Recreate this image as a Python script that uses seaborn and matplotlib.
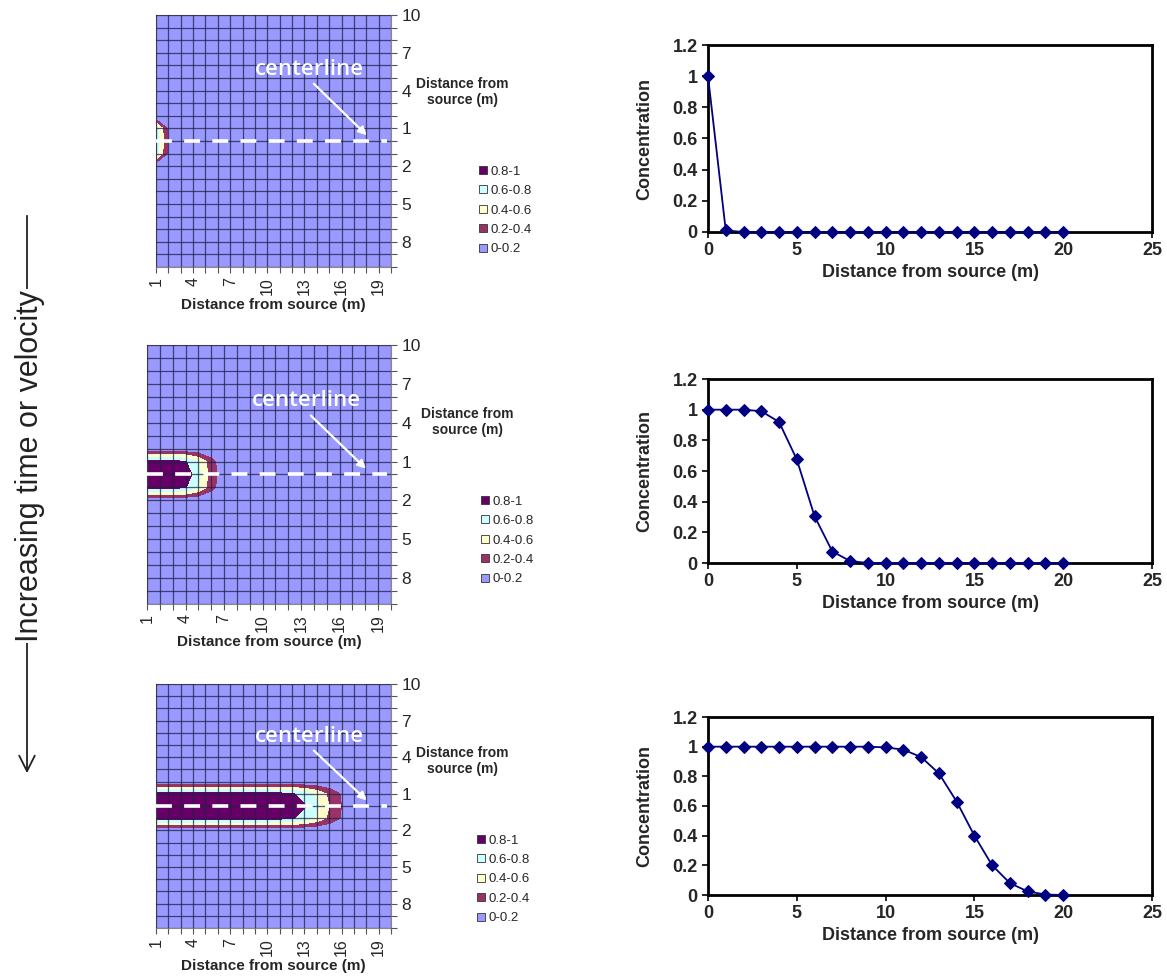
import numpy as np
import pandas as pd
import matplotlib
matplotlib.use('Agg')
import matplotlib.pyplot as plt
from matplotlib.lines import Line2D
from matplotlib.patches import FancyArrowPatch
import seaborn as sns

# ---- data ----
# centerline concentration profiles (right column), distance 0..20 m
distance = [0, 1, 2, 3, 4, 5, 6, 7, 8, 9, 10, 11, 12, 13, 14, 15, 16, 17, 18, 19, 20]
conc_early = [1, 0.01, 0, 0, 0, 0, 0, 0, 0, 0, 0, 0, 0, 0, 0, 0, 0, 0, 0, 0, 0]
conc_mid = [1, 1, 1, 0.99, 0.92, 0.675, 0.305, 0.075, 0.013, 0, 0, 0, 0, 0, 0, 0, 0, 0, 0, 0, 0]
conc_late = [1, 1, 1, 1, 1, 1, 1, 1, 1, 1, 0.995, 0.98, 0.93, 0.82, 0.63, 0.40, 0.20, 0.08, 0.024, 0.003, 0]

# plume maps (left column): columns 1..20, rows lateral 10 .. 0 .. 10
plume_x = [1, 2, 3, 4, 5, 6, 7, 8, 9, 10, 11, 12, 13, 14, 15, 16, 17, 18, 19, 20]
lateral_y = [10, 9, 8, 7, 6, 5, 4, 3, 2, 1, 0, -1, -2, -3, -4, -5, -6, -7, -8, -9, -10]
lateral_profile = [0, 0, 0, 0, 0, 0, 0, 0, 0, 0.88, 1, 0.88, 0, 0, 0, 0, 0, 0, 0, 0, 0]
plume_early = [0.78, 0.17, 0, 0, 0, 0, 0, 0, 0, 0, 0, 0, 0, 0, 0, 0, 0, 0, 0, 0]
plume_mid = [1, 1, 0.99, 0.92, 0.675, 0.305, 0.075, 0.013, 0, 0, 0, 0, 0, 0, 0, 0, 0, 0, 0, 0]
plume_late = [1, 1, 1, 1, 1, 1, 1, 1, 1, 0.995, 0.98, 0.93, 0.82, 0.63, 0.40, 0.20, 0.08, 0.024, 0.003, 0]

band_levels = [-0.01, 0.2, 0.4, 0.6, 0.8, 1.01]
band_colors = ['#9999FF', '#993366', '#FFFFCC', '#CCFFFF', '#660066']
band_labels = ['0-0.2', '0.2-0.4', '0.4-0.6', '0.6-0.8', '0.8-1']
x_tick_vals = [1, 4, 7, 10, 13, 16, 19]
y_tick_vals = [10, 7, 4, 1, -2, -5, -8]
y_tick_text = ['10', '7', '4', '1', '2', '5', '8']

sns.set_style('white')
plt.rcParams['font.family'] = ['Liberation Sans', 'DejaVu Sans']

W, H = 1167, 976
fig = plt.figure(figsize=(W / 100, H / 100), dpi=100)


def px_axes(left, top, right, bottom):
    return fig.add_axes([left / W, 1 - bottom / H, (right - left) / W, (bottom - top) / H])


def plume_panel(box, centerline, side_label_x, legend_x):
    ax = px_axes(*box)
    top = box[1]
    z = np.outer(lateral_profile, centerline)
    ax.contourf(plume_x, lateral_y, z, levels=band_levels, colors=band_colors)
    ax.set_xlim(1, 20)
    ax.set_ylim(-10, 10)
    ax.set_xticks(x_tick_vals)
    ax.set_xticklabels([str(v) for v in x_tick_vals], rotation=90, fontsize=11.5)
    ax.set_xticks(plume_x, minor=True)
    ax.yaxis.tick_right()
    ax.set_yticks(y_tick_vals)
    ax.set_yticklabels(y_tick_text, fontsize=12.5)
    ax.set_yticks(lateral_y, minor=True)
    ax.tick_params(which='both', direction='out', length=4, width=0.8, color='#555555',
                   bottom=True, right=True, left=False, top=False)
    ax.grid(which='both', color='#20204a', lw=0.9, alpha=0.75)
    ax.set_axisbelow(False)
    for s in ax.spines.values():
        s.set_color('#888888')
        s.set_linewidth(0.8)
    ax.set_xlabel('Distance from source (m)', fontsize=11, fontweight='bold', labelpad=2)

    ax.plot([1, 19.7], [0, 0], color='white', lw=2.6, dashes=(4.4, 3.4),
            solid_capstyle='butt', zorder=4)
    ax.text(13.4, 5.7, 'centerline', color='white', fontsize=16, ha='center', va='center',
            family=['Open Sans', 'DejaVu Sans'], fontweight='semibold', zorder=5)
    ax.annotate('', xy=(18.2, 0.3), xytext=(13.6, 4.7), zorder=5,
                arrowprops=dict(arrowstyle='-|>', color='white', lw=1.6, mutation_scale=12))

    fig.text(side_label_x / W, 1 - (top + 77) / H, 'Distance from\nsource (m)',
             ha='center', va='center', fontsize=10, fontweight='bold', linespacing=1.15)
    handles = [Line2D([], [], ls='none', marker='s', markersize=6, markerfacecolor=c,
                      markeredgecolor='#333333', markeredgewidth=0.6)
               for c in band_colors[::-1]]
    ax.legend(handles, band_labels[::-1], loc='upper left',
              bbox_to_anchor=(legend_x / W, 1 - (top + 145) / H),
              bbox_transform=fig.transFigure,
              frameon=False, fontsize=9.5, handlelength=0.7, handletextpad=0.2,
              labelspacing=0.55, borderaxespad=0, borderpad=0.4)
    return ax


def profile_panel(box, conc):
    ax = px_axes(*box)
    df = pd.DataFrame({'Distance from source (m)': distance, 'Concentration': conc})
    sns.lineplot(data=df, x='Distance from source (m)', y='Concentration', ax=ax,
                 color='#000080', lw=1.3, marker='D', markersize=6,
                 markeredgecolor='#000080', clip_on=False, zorder=5)
    ax.set_xlim(0, 25)
    ax.set_ylim(0, 1.2)
    ax.set_xticks([0, 5, 10, 15, 20, 25])
    ax.set_yticks([0, 0.2, 0.4, 0.6, 0.8, 1.0, 1.2])
    ax.set_yticklabels(['0', '0.2', '0.4', '0.6', '0.8', '1', '1.2'])
    ax.tick_params(direction='out', length=4, width=1.2, color='black',
                   labelsize=13, bottom=True, left=True)
    for lab in ax.get_xticklabels() + ax.get_yticklabels():
        lab.set_fontweight('bold')
    for s in ax.spines.values():
        s.set_color('black')
        s.set_linewidth(2)
    ax.set_xlabel('Distance from source (m)', fontsize=13, fontweight='bold', labelpad=3)
    ax.set_ylabel('Concentration', fontsize=13, fontweight='bold', labelpad=14)
    return ax


plume_panel((156, 15, 391, 267), plume_early, 462, 473)
plume_panel((147, 345, 391, 604), plume_mid, 467, 475)
plume_panel((156, 684, 391, 928), plume_late, 462, 471)

profile_panel((708, 45, 1152, 232), conc_early)
profile_panel((708, 379, 1152, 563), conc_mid)
profile_panel((708, 717, 1152, 895), conc_late)

# time / velocity arrow on the far left
fig.add_artist(FancyArrowPatch((27 / W, 1 - 213 / H), (27 / W, 1 - 776 / H),
                               transform=fig.transFigure, arrowstyle='->',
                               mutation_scale=28, lw=1.3, color='#222222'))
fig.text(30 / W, 1 - 466 / H, 'Increasing time or velocity', rotation=90, fontsize=22,
         ha='center', va='center', color='#222222',
         bbox=dict(facecolor='white', edgecolor='none', pad=1))

fig.savefig('out.png', dpi=100)
